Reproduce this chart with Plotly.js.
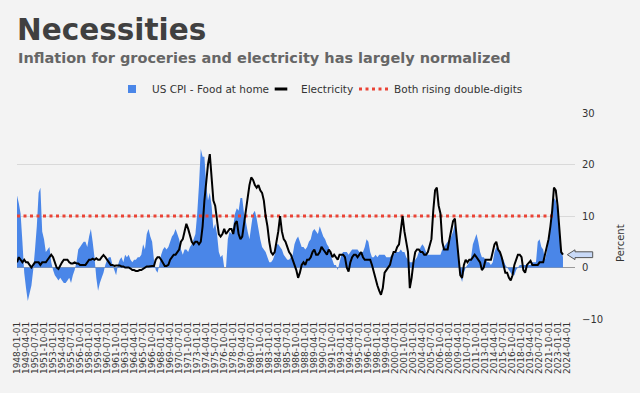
<!DOCTYPE html>
<html>
<head>
<meta charset="utf-8">
<script src="https://cdn.plot.ly/plotly-3.0.1.min.js"></script>
<style>html,body{margin:0;padding:0;background:#f3f3f3;}#chart{width:640px;height:393px;}</style>
</head>
<body>
<div id="chart"></div>
<script>
// Quarterly readings (Jan, Apr, Jul, Oct), 1948 through 2023, YoY %
const startYear = 1948;
const quarterMonths = ['01', '04', '07', '10'];

const foodAtHome = [
  14.0, 12.5, 10.5, 5.0,    // 1948
  -1.0, -4.0, -6.5, -5.0,   // 1949
  -3.5, -0.5, 3.5, 8.0,     // 1950
  14.5, 15.5, 7.0, 5.5,     // 1951
  3.0, 3.5, 4.0, 1.0,       // 1952
  -0.5, -1.5, -2.0, -2.5,   // 1953
  -2.0, -2.5, -3.0, -3.0,   // 1954
  -2.5, -2.0, -3.0, -1.5,   // 1955
  -0.5, 1.0, 3.5, 4.0,      // 1956
  4.5, 5.0, 5.0, 4.0,       // 1957
  6.0, 7.5, 5.0, 2.0,       // 1958
  -2.0, -4.5, -3.0, -2.0,   // 1959
  -1.0, 0.5, 1.5, 2.0,      // 1960
  2.0, 0.5, -0.5, -1.5,     // 1961
  0.5, 1.5, 2.0, 1.0,       // 1962
  2.5, 2.0, 2.5, 1.5,       // 1963
  1.0, 1.5, 1.5, 2.0,       // 1964
  2.0, 2.5, 4.5, 3.5,       // 1965
  6.5, 7.5, 6.0, 5.0,       // 1966
  1.5, -0.5, -1.0, 0.5,     // 1967
  2.5, 3.5, 4.0, 3.5,       // 1968
  4.0, 5.0, 6.0, 6.5,       // 1969
  7.5, 6.5, 5.5, 3.5,       // 1970
  2.5, 3.5, 3.5, 3.0,       // 1971
  4.0, 4.5, 5.5, 6.5,       // 1972
  10.5, 16.0, 23.0, 21.5,   // 1973
  21.5, 16.0, 13.0, 14.5,   // 1974
  12.0, 7.5, 8.5, 6.5,      // 1975
  3.0, 2.0, 2.5, 0.0,       // 1976
  0.0, 5.5, 7.0, 6.5,       // 1977
  8.0, 10.5, 11.5, 11.0,    // 1978
  13.5, 13.5, 10.5, 9.0,    // 1979
  7.0, 5.5, 8.0, 10.5,      // 1980
  11.0, 9.5, 7.5, 5.5,      // 1981
  4.0, 3.5, 3.0, 2.0,       // 1982
  1.0, 1.0, 1.5, 2.5,       // 1983
  4.5, 4.5, 4.0, 3.5,       // 1984
  2.5, 2.0, 1.5, 1.5,       // 1985
  2.0, 2.5, 4.5, 5.5,       // 1986
  6.0, 5.0, 4.0, 4.0,       // 1987
  3.5, 4.0, 5.0, 5.5,       // 1988
  7.0, 7.5, 7.0, 6.5,       // 1989
  8.0, 7.0, 6.0, 5.5,       // 1990
  4.5, 4.0, 2.5, 1.5,       // 1991
  0.5, 0.5, -0.5, 1.0,      // 1992
  2.5, 3.0, 3.0, 3.0,       // 1993
  2.5, 3.0, 3.5, 3.5,       // 1994
  3.5, 3.5, 3.0, 3.0,       // 1995
  3.0, 4.0, 5.5, 5.0,       // 1996
  3.0, 2.0, 2.0, 2.5,       // 1997
  2.0, 2.5, 2.5, 2.5,       // 1998
  2.5, 2.0, 2.0, 2.0,       // 1999
  2.5, 2.5, 3.0, 3.0,       // 2000
  3.0, 3.5, 3.0, 3.0,       // 2001
  2.0, 1.5, 1.0, 1.0,       // 2002
  1.0, 1.5, 2.0, 3.0,       // 2003
  4.0, 4.5, 4.0, 3.0,       // 2004
  2.5, 2.5, 2.5, 2.5,       // 2005
  2.5, 2.5, 2.5, 2.5,       // 2006
  3.5, 4.0, 4.5, 5.0,       // 2007
  5.5, 6.0, 7.0, 8.5,       // 2008
  6.5, 2.5, -1.5, -2.8,     // 2009
  -1.0, 0.0, 0.5, 1.0,      // 2010
  2.0, 4.5, 5.5, 6.5,       // 2011
  5.0, 3.0, 2.0, 2.0,       // 2012
  1.5, 1.0, 1.0, 0.5,       // 2013
  1.0, 3.0, 4.0, 3.5,       // 2014
  3.0, 2.0, 1.5, 0.5,       // 2015
  0.0, -0.5, -1.0, -1.5,    // 2016
  -1.5, -0.5, 0.0, 0.5,     // 2017
  0.5, 0.5, 0.5, 0.5,       // 2018
  0.5, 0.5, 1.0, 1.0,       // 2019
  1.0, 5.0, 5.5, 4.0,       // 2020
  3.5, 1.5, 3.0, 5.5,       // 2021
  7.5, 11.0, 13.5, 13.0,    // 2022
  11.0, 7.0, 3.5, 2.0       // 2023
];

const electricity = [
  1.0, 2.0, 1.5, 1.0,       // 1948
  1.5, 1.0, 1.0, 0.5,       // 1949
  0.0, 0.5, 1.0, 1.0,       // 1950
  1.0, 0.5, 1.0, 1.0,       // 1951
  1.0, 1.5, 2.0, 2.5,       // 1952
  2.0, 1.0, 0.0, -0.3,      // 1953
  0.5, 1.0, 1.5, 1.5,       // 1954
  1.5, 1.0, 0.8, 0.8,       // 1955
  1.0, 0.8, 0.8, 0.5,       // 1956
  0.5, 0.5, 0.5, 1.0,       // 1957
  1.5, 1.5, 1.7, 1.5,       // 1958
  1.8, 1.5, 1.5, 2.0,       // 1959
  2.4, 2.0, 1.5, 0.8,       // 1960
  0.5, 0.5, 0.3, 0.4,       // 1961
  0.4, 0.4, 0.2, 0.2,       // 1962
  0.0, 0.0, 0.0, -0.2,      // 1963
  -0.5, -0.5, -0.7, -0.7,   // 1964
  -0.5, -0.5, -0.3, 0.0,    // 1965
  0.2, 0.2, 0.3, 0.3,       // 1966
  0.3, 1.5, 2.0, 2.0,       // 1967
  1.5, 1.0, 0.3, 0.3,       // 1968
  0.5, 1.5, 2.0, 2.5,       // 1969
  2.5, 3.0, 3.5, 5.0,       // 1970
  5.5, 7.0, 8.5, 7.5,       // 1971
  6.0, 5.0, 4.5, 5.0,       // 1972
  5.0, 4.5, 5.0, 8.0,       // 1973
  13.0, 17.0, 20.0, 22.0,   // 1974
  18.0, 13.0, 12.0, 9.0,    // 1975
  6.5, 6.0, 6.5, 7.5,       // 1976
  6.5, 7.0, 7.5, 7.5,       // 1977
  6.5, 8.5, 9.0, 6.5,       // 1978
  5.5, 6.0, 8.5, 11.0,      // 1979
  14.0, 16.0, 17.5, 17.0,   // 1980
  16.0, 15.5, 16.0, 15.0,   // 1981
  14.5, 13.0, 10.0, 8.0,    // 1982
  5.0, 3.0, 2.5, 3.0,       // 1983
  5.0, 7.0, 10.0, 7.0,      // 1984
  5.5, 5.0, 4.0, 3.0,       // 1985
  2.5, 1.5, 0.5, -0.5,      // 1986
  -2.0, -1.0, 0.5, 1.0,     // 1987
  0.5, 1.5, 1.5, 2.0,       // 1988
  3.0, 3.5, 2.5, 2.5,       // 1989
  3.0, 4.0, 3.5, 3.0,       // 1990
  2.5, 3.5, 3.0, 2.0,       // 1991
  2.5, 2.0, 1.5, 2.5,       // 1992
  2.5, 2.5, 2.0, 0.0,       // 1993
  -0.8, 1.0, 2.0, 2.5,      // 1994
  2.5, 2.0, 2.5, 3.0,       // 1995
  2.0, 1.5, 1.5, 1.5,       // 1996
  1.5, 0.5, -1.0, -2.0,     // 1997
  -3.5, -4.5, -5.3, -4.0,   // 1998
  -1.0, -0.5, 0.0, 0.5,     // 1999
  2.0, 3.0, 3.0, 4.0,       // 2000
  4.5, 7.0, 10.0, 7.0,      // 2001
  5.0, 3.0, -4.0, -2.0,     // 2002
  1.0, 3.0, 3.5, 3.5,       // 2003
  3.0, 3.0, 2.5, 2.5,       // 2004
  3.0, 4.5, 5.5, 11.0,      // 2005
  15.0, 15.5, 12.0, 10.5,   // 2006
  5.0, 3.5, 3.5, 3.5,       // 2007
  5.5, 7.0, 9.0, 9.5,       // 2008
  6.0, 1.5, -1.5, -2.0,     // 2009
  0.5, 1.5, 1.0, 1.5,       // 2010
  1.5, 2.0, 2.5, 2.0,       // 2011
  1.5, 1.0, -0.5, 0.0,      // 2012
  1.5, 1.5, 1.5, 1.5,       // 2013
  3.0, 4.5, 5.0, 3.5,       // 2014
  3.0, 2.0, 0.5, -1.0,      // 2015
  -1.0, -2.0, -2.5, -1.5,   // 2016
  0.5, 1.5, 2.5, 2.5,       // 2017
  2.0, -0.5, -1.0, 0.5,     // 2018
  1.0, 1.3, 0.5, 0.5,       // 2019
  0.5, 0.5, 1.0, 1.0,       // 2020
  1.0, 2.5, 4.0, 5.5,       // 2021
  8.0, 11.0, 15.5, 15.0,    // 2022
  12.0, 8.0, 3.0, 2.5       // 2023
];

// Double-digit threshold line
const thresholdDates = ['1948-01-01', '2022-06-01'];
const thresholdValues = [10, 10];

const seriesNames = ['US CPI - Food at home', 'Electricity', 'Both rising double-digits'];
const titleText = 'Necessities';
const subtitleText = 'Inflation for groceries and electricity has largely normalized';
const axisTitleText = 'Percent';

// build dates
const dates = foodAtHome.map((_, i) => (startYear + Math.floor(i / 4)) + '-' + quarterMonths[i % 4] + '-01');

const BLUE = '#4a86e8';
const RED = '#ea4335';
const FONT = 'DejaVu Sans, Verdana, sans-serif';

const traces = [
  { x: dates, y: foodAtHome, type: 'scatter', mode: 'none', fill: 'tozeroy', fillcolor: BLUE,
    showlegend: false, hoverinfo: 'skip' },
  { x: thresholdDates, y: thresholdValues, type: 'scatter', mode: 'lines', name: seriesNames[2],
    line: { color: RED, width: 3, dash: '3px,3.5px' }, legendrank: 3, hoverinfo: 'skip' },
  { x: dates, y: electricity, type: 'scatter', mode: 'lines', line: { color: '#000', width: 2 },
    showlegend: false, hoverinfo: 'skip' },
  // legend-only entries
  { x: [null], y: [null], type: 'scatter', mode: 'markers', name: seriesNames[0],
    marker: { symbol: 'square', size: 8, color: BLUE }, legendrank: 1, legendwidth: 104, hoverinfo: 'skip' },
  { x: [null], y: [null], type: 'scatter', mode: 'markers', name: seriesNames[1],
    marker: { symbol: 'line-ew', size: 9, line: { width: 3, color: '#000' } }, legendrank: 2, legendwidth: 48, hoverinfo: 'skip' }
];

// plot box in pixels
const L = 17, R = 575, T = 113, B = 319;
const px = x => (x - L) / (R - L);
const py = y => (B - y) / (B - T);
const arrowPath = 'M' + px(567.3) + ',' + py(254.7) +
  ' L' + px(575) + ',' + py(249.8) +
  ' L' + px(575) + ',' + py(251.8) +
  ' L' + px(592.7) + ',' + py(251.8) +
  ' L' + px(592.7) + ',' + py(257.6) +
  ' L' + px(575) + ',' + py(257.6) +
  ' L' + px(575) + ',' + py(259.6) + ' Z';

const layout = {
  width: 640, height: 393,
  paper_bgcolor: '#f3f3f3', plot_bgcolor: '#f3f3f3',
  margin: { l: L, r: 640 - R, t: T, b: 393 - B, pad: 0 },
  font: { family: FONT, color: '#333', size: 10 },
  showlegend: true,
  title: {
    text: titleText, xref: 'container', x: 17 / 640, xanchor: 'left',
    yref: 'container', y: 1 - 19 / 393, yanchor: 'top',
    font: { family: FONT, size: 29.5, color: '#404040', weight: 'bold' }
  },
  legend: {
    orientation: 'h', xref: 'container', x: 0.5, xanchor: 'center',
    yref: 'container', y: 1 - 89 / 393, yanchor: 'middle',
    font: { family: FONT, size: 10.5, color: '#333' }, bgcolor: 'rgba(0,0,0,0)'
  },
  xaxis: {
    type: 'date', range: ['1948-01-01', '2025-06-01'],
    tick0: '1948-01-01', dtick: 'M15', tickformat: '%Y-%m-%d', tickangle: -90,
    tickfont: { size: 9, color: '#333' }, showgrid: false, zeroline: false, showline: false, ticks: '',
    fixedrange: true
  },
  yaxis: {
    side: 'right', range: [-10, 30], dtick: 10, tick0: 0,
    gridcolor: '#d9d9d9', gridwidth: 1, zeroline: true, zerolinecolor: '#9a9a9a', zerolinewidth: 1,
    showline: false, ticks: '', ticklabelstandoff: 6, tickfont: { size: 10, color: '#333' }, fixedrange: true
  },
  annotations: [
    { xref: 'paper', yref: 'paper', x: px(16), y: py(58), xanchor: 'left', yanchor: 'middle',
      text: subtitleText, showarrow: false,
      font: { family: FONT, size: 14.5, color: '#666666', weight: 'bold' } },
    { xref: 'paper', yref: 'paper', x: px(620), y: py(243), xanchor: 'center', yanchor: 'middle',
      text: axisTitleText, textangle: -90,
      showarrow: false, font: { family: FONT, size: 10, color: '#333' } }
  ],
  shapes: [
    { type: 'path', xref: 'paper', yref: 'paper', path: arrowPath,
      fillcolor: '#c9daf8', line: { color: '#555555', width: 1 } }
  ]
};

Plotly.newPlot('chart', traces, layout, { displayModeBar: false, staticPlot: true });
</script>
</body>
</html>
